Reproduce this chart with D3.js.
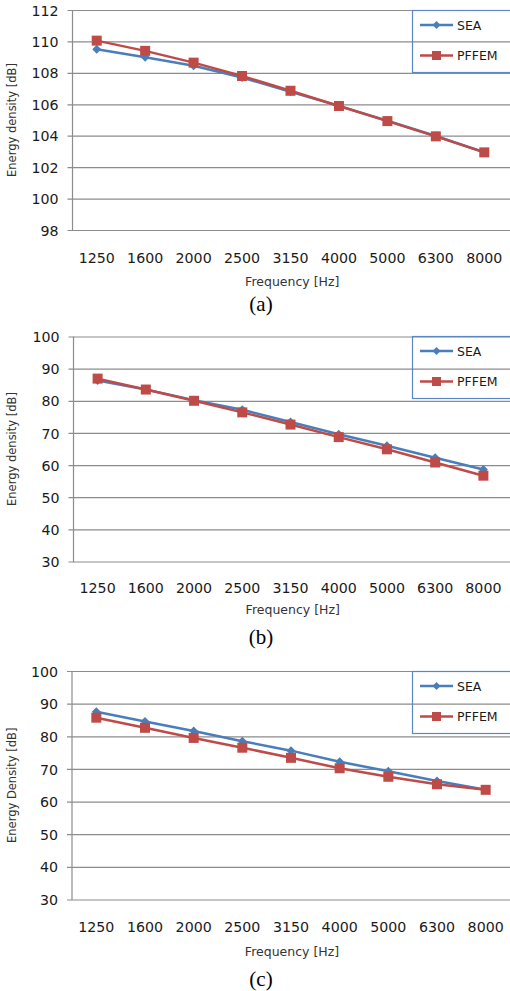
<!DOCTYPE html>
<html>
<head>
<meta charset="utf-8">
<script src="https://cdn.jsdelivr.net/npm/d3@7"></script>
<style>
  html, body { margin: 0; padding: 0; background: #fff; }
  svg { display: block; }
</style>
</head>
<body>
<svg id="chart" width="510" height="991"></svg>
<script>
// ---------- data ----------
const frequencies = ["1250", "1600", "2000", "2500", "3150", "4000", "5000", "6300", "8000"];
const seriesNames = ["SEA", "PFFEM"];

const seaA   = [109.5, 109.0, 108.45, 107.7, 106.8, 105.9, 104.95, 103.98, 102.95];
const pffemA = [110.05, 109.4, 108.65, 107.8, 106.86, 105.89, 104.93, 103.96, 102.94];

const seaB   = [86.3, 83.5, 80.2, 77.2, 73.4, 69.6, 66.0, 62.3, 58.6];
const pffemB = [86.9, 83.5, 80.0, 76.4, 72.6, 68.7, 64.9, 60.8, 56.7];

const seaC   = [87.5, 84.5, 81.6, 78.5, 75.6, 72.2, 69.3, 66.3, 63.6];
const pffemC = [85.7, 82.6, 79.5, 76.5, 73.4, 70.2, 67.6, 65.3, 63.6];

const yTicksA = [98, 100, 102, 104, 106, 108, 110, 112];
const yTicksB = [30, 40, 50, 60, 70, 80, 90, 100];
const yTicksC = [30, 40, 50, 60, 70, 80, 90, 100];

const yTitles = ["Energy density [dB]", "Energy density [dB]", "Energy Density [dB]"];
const xTitle = "Frequency [Hz]";
const captions = ["(a)", "(b)", "(c)"];

// ---------- layout / style ----------
const colors = { SEA: "#4A7EBB", PFFEM: "#BE4B48" };
const gridColor = "#8C8C8C";
const textColor = "#1a1a1a";

const panels = [
  { sea: seaA, pffem: pffemA, ticks: yTicksA, yTitle: yTitles[0], cap: captions[0],
    top: 10, bottom: 230, left: 72.5, right: 508.5, tickLbl: 263, xTitleY: 286, capY: 311, legTop: 10 },
  { sea: seaB, pffem: pffemB, ticks: yTicksB, yTitle: yTitles[1], cap: captions[1],
    top: 336.5, bottom: 561.5, left: 73.5, right: 507.5, tickLbl: 593, xTitleY: 614, capY: 644, legTop: 336 },
  { sea: seaC, pffem: pffemC, ticks: yTicksC, yTitle: yTitles[2], cap: captions[2],
    top: 671, bottom: 899.5, left: 72, right: 510, tickLbl: 932, xTitleY: 956, capY: 986, legTop: 671 }
];

const svg = d3.select("#chart");

function diamondPath(cx, cy, r) {
  return `M${cx},${cy - r}L${cx + r},${cy}L${cx},${cy + r}L${cx - r},${cy}Z`;
}

function drawMarker(g, name, cx, cy, small) {
  if (name === "SEA") {
    g.append("path").attr("d", diamondPath(cx, cy, small ? 4 : 4.5)).attr("fill", colors.SEA);
  } else {
    const s = small ? 9 : 10;
    g.append("rect").attr("x", cx - s / 2).attr("y", cy - s / 2).attr("width", s).attr("height", s)
      .attr("fill", colors.PFFEM);
  }
}

panels.forEach(p => {
  const g = svg.append("g");
  const x = d3.scaleBand().domain(frequencies).range([p.left, p.right]).padding(0);
  const y = d3.scaleLinear().domain([d3.min(p.ticks), d3.max(p.ticks)]).range([p.bottom, p.top]);

  // gridlines + y tick marks
  const yAxis = d3.axisLeft(y).tickValues(p.ticks).tickSize(0).tickPadding(0).tickFormat(d3.format("d"));
  const ya = g.append("g").attr("transform", `translate(${p.left - 5},0)`).call(yAxis);
  ya.select(".domain").remove();
  ya.selectAll(".tick line").attr("stroke", gridColor).attr("stroke-width", 1.2)
    .attr("x1", 0).attr("x2", p.right - p.left + 8);
  ya.selectAll(".tick text").attr("x", -9).attr("dy", "0.36em")
    .attr("font-family", "DejaVu Sans, sans-serif").attr("font-size", 14.2).attr("fill", textColor);
  // y axis line
  g.append("line").attr("x1", p.left).attr("x2", p.left).attr("y1", p.top).attr("y2", p.bottom + 0.5)
    .attr("stroke", gridColor).attr("stroke-width", 1.2);

  // x tick labels
  const xa = g.append("g").attr("transform", `translate(0,${p.tickLbl})`)
    .call(d3.axisBottom(x).tickSize(0).tickPadding(0));
  xa.select(".domain").remove();
  xa.selectAll(".tick text").attr("y", 0).attr("dy", 0)
    .attr("font-family", "DejaVu Sans, sans-serif").attr("font-size", 14.2).attr("fill", textColor);

  // axis titles
  g.append("text").attr("x", (p.left + 510) / 2 + 1).attr("y", p.xTitleY).attr("text-anchor", "middle")
    .attr("font-family", "DejaVu Sans, sans-serif").attr("font-size", 12.5).attr("fill", "#333")
    .text(xTitle);
  g.append("text")
    .attr("transform", `translate(16,${(p.top + p.bottom) / 2}) rotate(-90)`)
    .attr("text-anchor", "middle")
    .attr("font-family", "DejaVu Sans, sans-serif").attr("font-size", 11.5).attr("fill", "#333")
    .text(p.yTitle);

  // caption
  g.append("text").attr("x", 261).attr("y", p.capY).attr("text-anchor", "middle")
    .attr("font-family", "Liberation Serif, Times New Roman, serif").attr("font-size", 21).attr("fill", "#000")
    .text(p.cap);

  // series
  const line = d3.line().x((d, i) => x(frequencies[i]) + x.bandwidth() / 2).y(d => y(d));
  [["SEA", p.sea], ["PFFEM", p.pffem]].forEach(([name, vals]) => {
    g.append("path").datum(vals).attr("d", line).attr("fill", "none")
      .attr("stroke", colors[name]).attr("stroke-width", 2.5).attr("stroke-linejoin", "round");
    vals.forEach((v, i) => drawMarker(g, name, x(frequencies[i]) + x.bandwidth() / 2, y(v), false));
  });

  // legend
  const lg = g.append("g");
  lg.append("rect").attr("x", 412.5).attr("y", p.legTop + 0.5).attr("width", 110).attr("height", 62)
    .attr("fill", "none").attr("stroke", "#5B87C5").attr("stroke-width", 1.2);
  seriesNames.forEach((name, i) => {
    const cy = p.legTop + 15 + i * 30.5;
    lg.append("line").attr("x1", 420).attr("x2", 453).attr("y1", cy).attr("y2", cy)
      .attr("stroke", colors[name]).attr("stroke-width", 2.5);
    drawMarker(lg, name, 436.5, cy, true);
    lg.append("text").attr("x", 457).attr("y", cy).attr("dy", "0.36em")
      .attr("font-family", "DejaVu Sans, sans-serif").attr("font-size", 12.5).attr("fill", textColor)
      .text(name);
  });
});
</script>
</body>
</html>
